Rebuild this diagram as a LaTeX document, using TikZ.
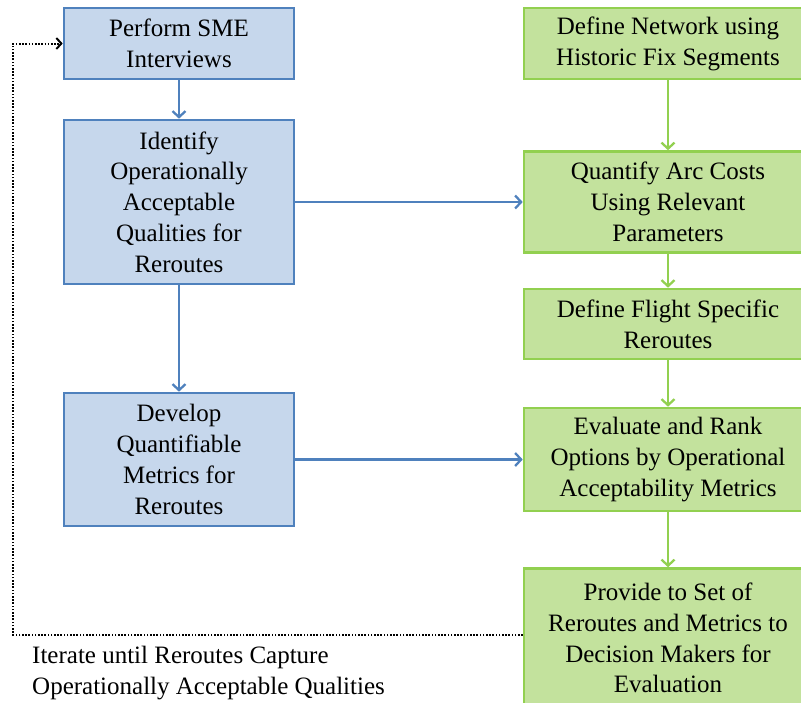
\documentclass[tikz,border=0pt]{standalone}
\usepackage{fontspec}
\setmainfont{Liberation Serif}
\usetikzlibrary{arrows.meta}
\definecolor{bfill}{HTML}{C6D7EC}
\definecolor{bline}{HTML}{4F81BD}
\definecolor{gfill}{HTML}{C3E29D}
\definecolor{gline}{HTML}{92D050}
\begin{document}
\begin{tikzpicture}[x=1pt,y=-1pt,
  every node/.style={font=\fontsize{25}{30.8}\selectfont, inner sep=0pt, align=center},
  bbox/.style={draw=bline, fill=bfill, line width=2.6pt, minimum width=230pt},
  gbox/.style={draw=gline, fill=gfill, line width=2.6pt, minimum width=288pt},
  barr/.style={draw=bline, line width=2.3pt, -{Straight Barb[length=6pt,width=13pt,line width=2.3pt]}},
  garr/.style={draw=gline, line width=2.3pt, -{Straight Barb[length=6pt,width=13pt,line width=2.3pt]}},
  darr/.style={draw=black, line width=2pt, dash pattern=on 1.6pt off 1.6pt, -{Straight Barb[length=5pt,width=11pt,line width=2pt]}}
]
\useasboundingbox (0,0) rectangle (801,702);
\clip (0,0) rectangle (801,702);
\node[bbox, minimum height=71pt] (b1) at (179,43.5) {Perform SME\\Interviews};
\node[bbox, minimum height=164pt] (b2) at (179,202) {Identify\\Operationally\\Acceptable\\Qualities for\\Reroutes};
\node[bbox, minimum height=133pt] (b3) at (179,459.5) {Develop\\Quantifiable\\Metrics for\\Reroutes};
\node[gbox, minimum height=71pt] (g1) at (668,43.5) {Define Network using\\Historic Fix Segments};
\node[gbox, minimum height=101pt] (g2) at (668,202) {Quantify Arc Costs\\Using Relevant\\Parameters};
\node[gbox, minimum height=70pt] (g3) at (668,324) {Define Flight Specific\\Reroutes};
\node[gbox, minimum height=103pt] (g4) at (668,459.5) {Evaluate and Rank\\Options by Operational\\Acceptability Metrics};
\node[gbox, minimum height=139pt] (g5) at (668,638) {Provide to Set of\\Reroutes and Metrics to\\Decision Makers for\\Evaluation};
\node[anchor=west, align=left] (note) at (32,673) {Iterate until Reroutes Capture\\Operationally Acceptable Qualities};
\draw[barr] (b1) -- (b2);
\draw[barr] (b2) -- (b3);
\draw[barr] (b2.east) -- (b2.east -| g2.west);
\draw[barr] (b3.east) -- (b3.east -| g4.west);
\draw[garr] (g1) -- (g2);
\draw[garr] (g2) -- (g3);
\draw[garr] (g3) -- (g4);
\draw[garr] (g4) -- (g5);
\coordinate (dl) at (13,635);
\draw[darr] (g5.west |- dl) -- (dl) |- (b1.west);
\end{tikzpicture}
\end{document}
